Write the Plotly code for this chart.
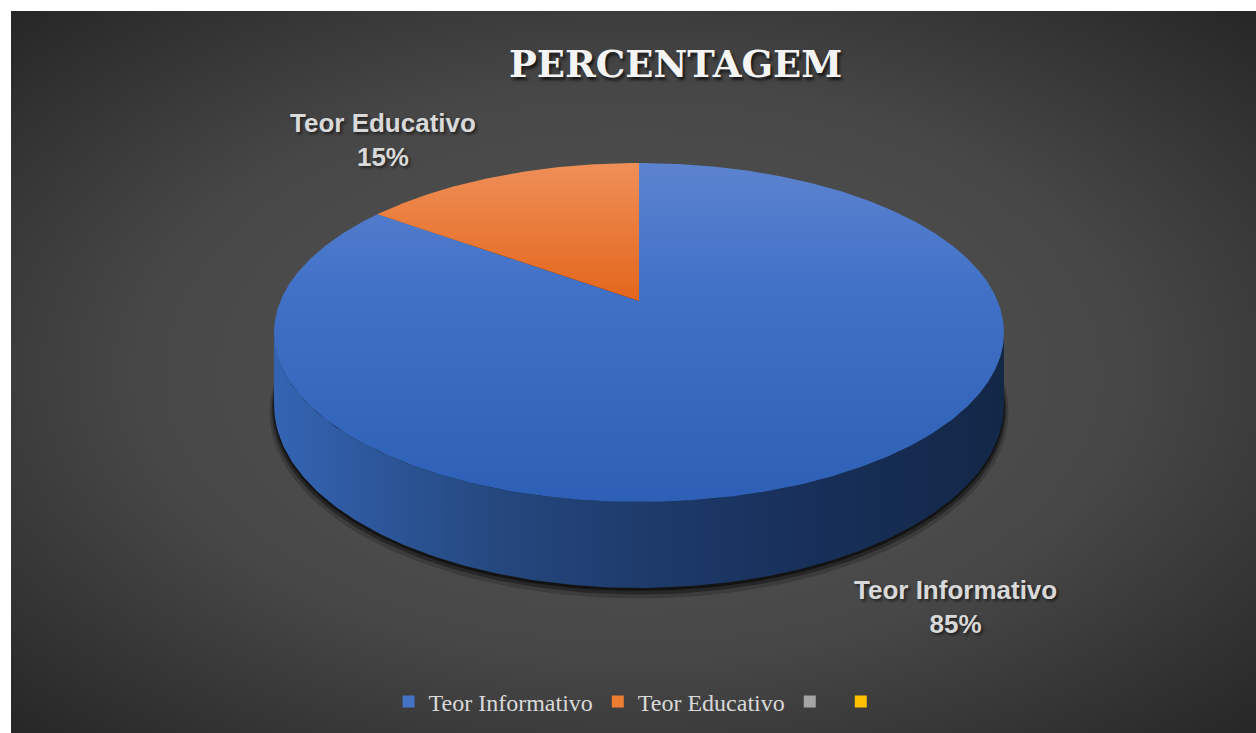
import base64
import numpy as np
import plotly.graph_objects as go

# ---------------- data ----------------
categories = ["Teor Informativo", "Teor Educativo"]
values = [85, 15]
legend_labels = ["Teor Informativo", "Teor Educativo", " ", " "]
legend_colors = ["#4472c4", "#ed7d31", "#a5a5a5", "#ffc000"]
title_text = "PERCENTAGEM"

# ---------------- geometry (3D pie in perspective) ----------------
W, H = 1256, 733
CX, CY = 639, 301          # projected centre of the top face
A, C = 107.7, -0.1858      # perspective terms along depth axis
K = 358.6                  # horizontal radius
DEPTH = 70                 # thickness of the pie


def proj(phi_deg, depth=0.0, scale=1.0):
    phi = np.radians(np.asarray(phi_deg, dtype=float))
    u = scale * np.sin(phi)
    v = -scale * np.cos(phi)
    den = 1 + C * v
    x = CX + K * u / den
    y = (A * v + CY) / den + depth / den
    return x, y


fig = go.Figure()

# shadow under the pie
for sc, dy, op in [(1.012, 6, 0.18), (1.006, 4, 0.35), (1.002, 2, 0.5)]:
    phis = np.linspace(0, 360, 241)
    x, y = proj(phis, depth=DEPTH + dy, scale=sc)
    fig.add_trace(go.Scatter(x=x, y=y, mode="lines", fill="toself",
                             fillcolor=f"rgba(0,0,0,{op})", line=dict(width=0),
                             hoverinfo="skip", showlegend=False))

# side wall (visible front part)
phi_a = np.degrees(np.arccos(C))          # ~100.7 deg
phi_b = 360 - phi_a
phis = np.linspace(phi_a, phi_b, 200)
xt, yt = proj(phis)
xb, yb = proj(phis[::-1], depth=DEPTH)
fig.add_trace(go.Scatter(
    x=np.concatenate([xt, xb]), y=np.concatenate([yt, yb]),
    mode="lines", fill="toself", line=dict(width=0),
    fillgradient=dict(type="horizontal",
                      colorscale=[[0, "#3464b3"], [0.3, "#25487f"],
                                  [0.5, "#1e3b6c"], [0.75, "#172f58"],
                                  [1, "#132747"]]),
    hoverinfo="skip", showlegend=False))

# top faces of the slices (colorscale runs from the screen bottom upward)
top_scales = [
    [[0, "#2c5fb5"], [0.65, "#4272c8"], [1, "#5c83cf"]],
    [[0, "#e3661b"], [1, "#ef8f58"]],
]
total = sum(values)
start = 0.0
for cat, val, cs in zip(categories, values, top_scales):
    end = start + 360.0 * val / total
    arc = np.linspace(start, end, max(int(end - start) * 2, 10))
    ax_, ay_ = proj(arc)
    cx0, cy0 = proj(0, scale=0)
    x = np.concatenate([[cx0], ax_, [cx0]])
    y = np.concatenate([[cy0], ay_, [cy0]])
    fig.add_trace(go.Scatter(x=x, y=y, mode="lines", fill="toself",
                             line=dict(width=0),
                             fillgradient=dict(type="vertical", colorscale=cs),
                             name=cat, hoverinfo="skip", showlegend=False))
    start = end

# legend entries
for lab, col in zip(legend_labels, legend_colors):
    fig.add_trace(go.Scatter(x=[None], y=[None], mode="markers",
                             marker=dict(symbol="square", size=12, color=col),
                             name=lab, showlegend=True))

# data labels
label_pos = {"Teor Informativo": (955, 607), "Teor Educativo": (383, 140)}
for cat, val in zip(categories, values):
    lx, ly = label_pos[cat]
    pct = round(100 * val / total)
    fig.add_annotation(x=lx, y=ly, xref="x", yref="y",
                       text=f"{cat}<br>{pct}%", showarrow=False,
                       font=dict(family="Liberation Sans", size=26,
                                 color="#d9d9d9", weight="bold",
                                 shadow="2px 2px 3px rgba(0,0,0,0.55)"),
                       align="center")

# title
fig.add_annotation(x=675, y=64, xref="x", yref="y", text=title_text,
                   showarrow=False,
                   font=dict(family="DejaVu Serif", size=37, color="#f4f4f4",
                             weight="bold",
                             shadow="2px 3px 3px rgba(0,0,0,0.7)"))

# background gradient
svg = (
    '<svg xmlns="http://www.w3.org/2000/svg" width="1245" height="722" '
    'viewBox="0 0 1245 722" preserveAspectRatio="none">'
    '<defs><radialGradient id="g" cx="0.5" cy="0.5" r="0.72">'
    '<stop offset="0" stop-color="#555555"/>'
    '<stop offset="0.55" stop-color="#474747"/>'
    '<stop offset="1" stop-color="#252525"/>'
    '</radialGradient></defs>'
    '<rect width="1245" height="722" fill="url(#g)"/></svg>'
)
src = "data:image/svg+xml;base64," + base64.b64encode(svg.encode()).decode()

fig.update_layout(
    width=W, height=H,
    margin=dict(l=0, r=0, t=0, b=0),
    paper_bgcolor="white", plot_bgcolor="rgba(0,0,0,0)",
    xaxis=dict(range=[0, W], visible=False, fixedrange=True),
    yaxis=dict(range=[H, 0], visible=False, fixedrange=True),
    images=[dict(source=src, xref="paper", yref="paper", x=11 / W, y=1 - 11 / H,
                 sizex=1 - 11 / W, sizey=1 - 11 / H, sizing="stretch",
                 xanchor="left", yanchor="top", layer="below")],
    legend=dict(orientation="h", x=0.51, xanchor="center", y=1 - 702 / H,
                yanchor="middle", bgcolor="rgba(0,0,0,0)",
                font=dict(family="Liberation Serif", size=24, color="#d9d9d9"),
                itemclick=False, itemdoubleclick=False),
    showlegend=True,
)

fig.write_html("out.html")
